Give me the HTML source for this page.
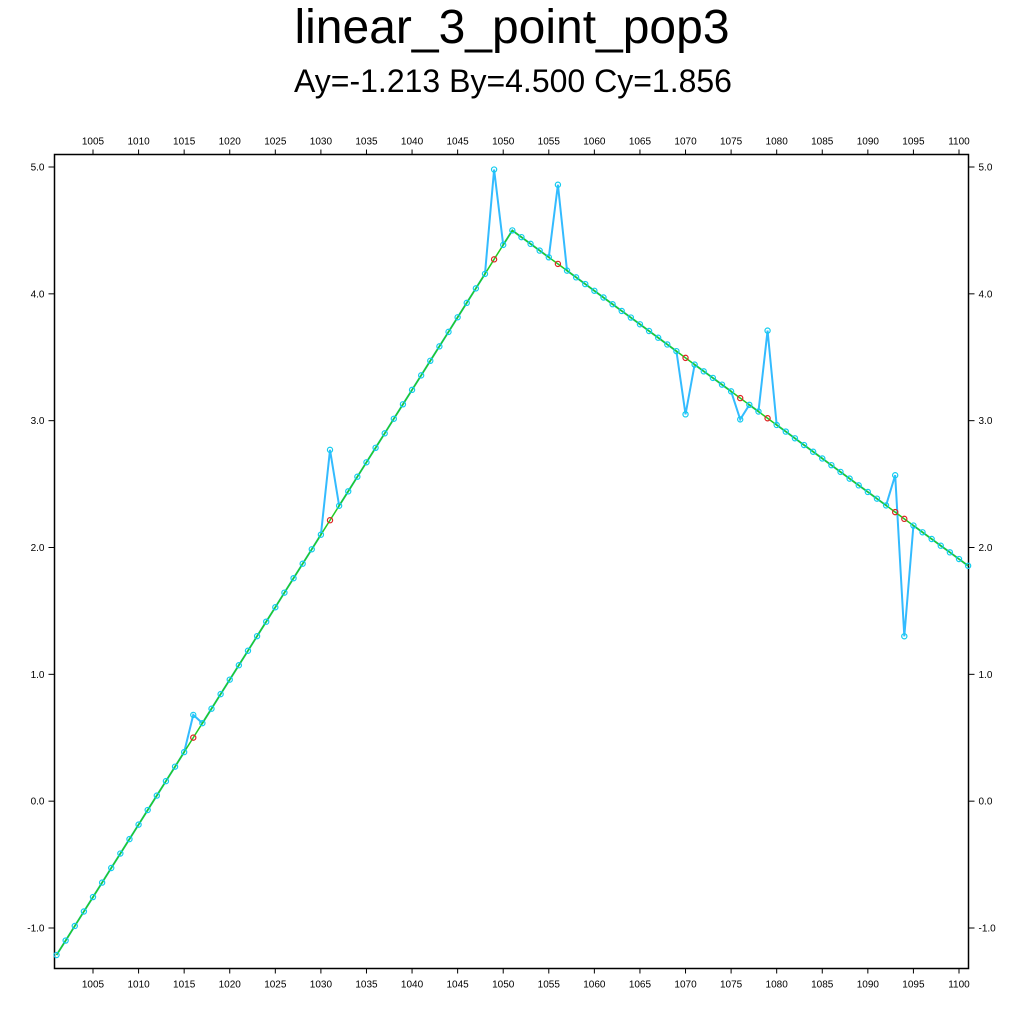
<!DOCTYPE html>
<html><head><meta charset="utf-8"><style>
body{margin:0;background:#fff;}
text{font-family:"Liberation Sans",Arial,sans-serif;}
</style></head><body>
<svg id="c" width="1024" height="1024" xmlns="http://www.w3.org/2000/svg">
<text x="512" y="43" font-size="48" text-anchor="middle">linear_3_point_pop3</text>
<text x="513" y="92" font-size="32" text-anchor="middle">Ay=-1.213 By=4.500 Cy=1.856</text>
<rect x="54.5" y="154.5" width="914" height="814" fill="none" stroke="#000" stroke-width="1.5"/>
<g id="axes"></g><g id="marks"></g>
</svg>
<script>
const xStart = 1001;
const modelY = [-1.213,-1.099,-0.984,-0.870,-0.756,-0.642,-0.527,-0.413,-0.299,-0.185,-0.070,0.044,0.158,0.272,0.387,0.501,0.615,0.729,0.844,0.958,1.072,1.186,1.301,1.415,1.529,1.644,1.758,1.872,1.986,2.101,2.215,2.329,2.443,2.558,2.672,2.786,2.900,3.015,3.129,3.243,3.357,3.472,3.586,3.700,3.815,3.929,4.043,4.157,4.272,4.386,4.500,4.447,4.394,4.341,4.288,4.236,4.183,4.130,4.077,4.024,3.971,3.918,3.865,3.813,3.760,3.707,3.654,3.601,3.548,3.495,3.442,3.389,3.337,3.284,3.231,3.178,3.125,3.072,3.019,2.966,2.914,2.861,2.808,2.755,2.702,2.649,2.596,2.543,2.490,2.438,2.385,2.332,2.279,2.226,2.173,2.120,2.067,2.014,1.962,1.909,1.856];
const outlierX = [1016,1031,1049,1056,1070,1076,1079,1093,1094];
const outlierY = [0.68,2.77,4.98,4.86,3.05,3.01,3.71,2.57,1.30];
const xTicks = [1005,1010,1015,1020,1025,1030,1035,1040,1045,1050,1055,1060,1065,1070,1075,1080,1085,1090,1095,1100];
const yTicks = [-1.0,0.0,1.0,2.0,3.0,4.0,5.0];

const L=54.5,R=968.5,T=154.5,B=968.5;
const X=v=>93+(v-1005)*(959-93)/95;
const Y=v=>928-(v+1)*(928-167)/6;
const NS="http://www.w3.org/2000/svg";
function mk(t,a,p){const e=document.createElementNS(NS,t);for(const k in a)e.setAttribute(k,a[k]);p.appendChild(e);return e;}
const ax=document.getElementById('axes'), mg=document.getElementById('marks');
xTicks.forEach(v=>{const x=X(v);
 [[T,T-5,T-10],[B,B+5,B+19]].forEach(([a,b,ty],i)=>{
  const l=mk('line',{x1:x,x2:x,y1:a,y2:b,stroke:'#000','stroke-width':1},ax);
  
  
  const t=mk('text',{x:x,y:ty,'font-size':10,'text-anchor':'middle'},ax);t.textContent=v;
  
  
 });});
yTicks.forEach(v=>{const y=Y(v);
 [[L,L-6,L-10,'end'],[R,R+6,R+10,'start']].forEach(([a,b,tx,an])=>{
  const l=mk('line',{x1:a,x2:b,y1:y,y2:y,stroke:'#000','stroke-width':1},ax);
  
  
  const t=mk('text',{x:tx,y:y+3.5,'font-size':10,'text-anchor':an},ax);t.textContent=v.toFixed(1);
  
  
 });});
const dataY=modelY.slice();
outlierX.forEach((x,i)=>{dataY[x-xStart]=outlierY[i];});
const pts=a=>a.map((v,i)=>X(xStart+i)+','+Y(v)).join(' ');
const dl=mk('polyline',{points:pts(dataY),fill:'none',stroke:'#33bbff','stroke-width':2},mg);


const ml=mk('polyline',{points:pts(modelY),fill:'none',stroke:'#22cc22','stroke-width':1.5},mg);


outlierX.forEach(x=>{
 const c=mk('circle',{cx:X(x),cy:Y(modelY[x-xStart]),r:2.6,fill:'none',stroke:'#dd2222','stroke-width':1.2},mg);
 
 
});
dataY.forEach((v,i)=>{
 const c=mk('circle',{cx:X(xStart+i),cy:Y(v),r:2.6,fill:'none',stroke:'#11ccee','stroke-width':1.2},mg);
 
 
});
</script>
</body></html>
